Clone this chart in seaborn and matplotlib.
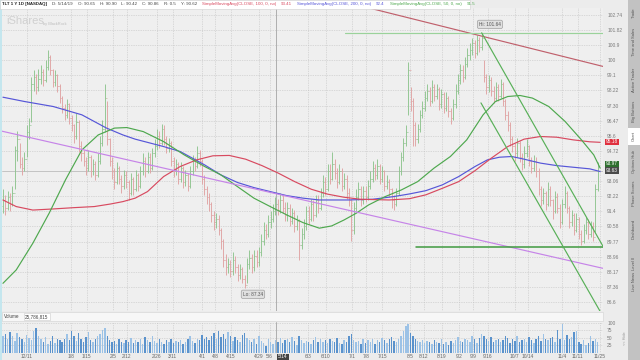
import numpy as np
import pandas as pd
import seaborn as sns
import matplotlib.pyplot as plt
from matplotlib.patches import Rectangle

# ---- daily OHLC bars (index 0 = first visible session) ----
first_open = 91.7
closes = [
    92.0, 91.6, 92.2, 91.8, 92.4, 94.8, 95.4, 94.0, 93.8, 94.3,
    95.8, 96.2, 98.6, 99.0, 98.4, 98.9, 99.3, 98.8, 99.6, 100.2,
    99.4, 98.7, 99.1, 98.5, 97.8, 97.2, 96.8, 97.4, 96.6, 96.2,
    95.6, 96.4, 95.0, 94.6, 94.2, 93.8, 94.4, 93.6, 94.0, 93.4,
    94.2, 95.2, 96.0, 97.8, 95.4, 94.2, 93.6, 93.0, 93.8, 93.2,
    92.8, 93.4, 93.0, 92.4, 93.2, 92.6, 93.4, 92.8, 93.6, 94.2,
    93.6, 94.4, 93.8, 94.6, 95.0, 95.6, 95.2, 96.0, 95.4, 94.9,
    95.2, 94.2, 93.6, 94.0, 93.2, 93.8, 93.0, 93.4, 92.8, 93.6,
    94.2, 93.9, 94.6, 94.2, 93.2, 92.6, 92.2, 91.8, 91.2, 90.8,
    91.0, 90.4, 89.8, 88.8, 88.4, 88.6, 88.2, 88.8, 88.4, 88.0,
    88.3, 87.8, 87.5, 88.6, 88.9, 88.4, 89.0, 88.7, 89.2, 89.8,
    90.4, 90.2, 90.8, 91.0, 91.4, 91.8, 91.5, 92.0, 91.6, 91.2,
    91.6, 90.9, 91.3, 90.6, 90.9, 89.6, 90.2, 90.6, 91.4, 91.0,
    91.8, 91.2, 92.0, 91.6, 92.4, 93.0, 92.6, 93.6, 93.2, 94.0,
    93.5, 93.0, 93.6, 92.8, 93.2, 92.4, 92.0, 90.4, 91.6, 92.2,
    92.6, 92.0, 92.5, 92.2, 92.8, 93.2, 93.8, 93.4, 93.9, 93.2,
    93.6, 92.8, 93.0, 92.6, 92.0, 91.8, 92.4, 93.6, 94.4, 95.2,
    95.8, 99.4, 97.6, 96.2, 95.4, 96.0, 96.8, 97.2, 97.8, 98.2,
    97.6, 98.4, 97.9, 98.3, 97.4, 98.0, 97.2, 97.8, 97.0, 96.6,
    97.4, 98.2, 98.8, 99.4, 99.0, 99.8, 100.3, 100.6, 101.0, 100.4,
    101.2, 100.8, 101.3, 99.0, 98.4, 98.8, 98.2, 97.8, 98.4, 97.9,
    98.6, 97.6, 96.8, 96.2, 95.4, 95.0, 94.6, 95.2, 94.4, 94.0,
    94.6, 95.0, 94.2, 93.8, 94.2, 93.6, 92.6, 92.0, 92.4, 91.8,
    92.6, 92.0, 91.4, 92.2, 91.6, 90.8, 91.8, 92.4, 91.6, 90.8,
    91.2, 90.4, 91.0, 90.2, 89.8, 90.4, 90.8, 90.2, 90.6, 90.0,
    92.6, 93.9,
]
highs = [
    92.6, 92.3, 92.5, 92.4, 92.8, 95.0, 95.9, 95.2, 94.4, 94.7,
    96.2, 96.6, 99.0, 99.4, 99.2, 99.5, 99.7, 99.5, 100.0, 100.6,
    100.3, 99.5, 99.4, 99.2, 98.6, 97.9, 97.4, 97.7, 97.5, 96.8,
    96.3, 96.9, 96.5, 95.3, 94.8, 94.4, 94.8, 94.5, 94.3, 94.2,
    94.6, 95.6, 96.5, 98.6, 97.6, 95.5, 94.4, 93.8, 94.1, 93.9,
    93.4, 93.7, 93.6, 93.1, 93.5, 93.3, 93.7, 93.5, 93.9, 94.6,
    94.4, 94.7, 94.6, 94.9, 95.4, 96.0, 95.9, 96.3, 96.2, 95.6,
    95.5, 95.3, 94.4, 94.3, 94.1, 94.1, 93.9, 93.7, 93.5, 93.9,
    94.5, 94.4, 95.0, 94.8, 94.3, 93.4, 92.8, 92.4, 91.9, 91.4,
    91.3, 91.2, 90.5, 89.9, 89.1, 88.9, 88.8, 89.2, 89.0, 88.6,
    88.6, 88.4, 88.0, 88.9, 89.3, 89.1, 89.3, 89.3, 89.5, 90.2,
    90.8, 90.7, 91.2, 91.4, 91.8, 92.2, 92.1, 92.4, 92.3, 91.9,
    91.9, 91.8, 91.6, 91.5, 91.2, 91.0, 90.5, 91.0, 91.7, 91.7,
    92.1, 92.0, 92.3, 92.3, 92.7, 93.4, 93.3, 94.0, 94.0, 94.7,
    94.3, 93.8, 94.0, 93.8, 93.5, 93.4, 92.7, 92.1, 91.9, 92.6,
    93.0, 92.8, 92.8, 92.8, 93.1, 93.6, 94.2, 94.0, 94.3, 94.0,
    93.9, 93.7, 93.4, 93.2, 92.7, 92.3, 92.7, 93.9, 94.7, 95.5,
    96.2, 99.9, 98.4, 97.8, 96.4, 96.3, 97.1, 97.6, 98.2, 98.6,
    98.4, 98.8, 98.6, 98.6, 98.4, 98.3, 98.1, 98.1, 97.9, 97.2,
    97.7, 98.6, 99.2, 99.8, 99.7, 100.2, 100.7, 101.0, 101.3, 101.2,
    101.5, 101.4, 101.64, 100.0, 99.2, 99.1, 99.0, 98.5, 98.7, 98.6,
    98.9, 98.7, 97.7, 97.0, 96.4, 95.6, 95.2, 95.5, 95.3, 94.6,
    95.0, 95.4, 95.1, 94.4, 94.5, 94.4, 93.8, 92.8, 92.7, 92.5,
    93.0, 92.8, 92.1, 92.5, 92.4, 91.8, 92.1, 92.8, 92.5, 91.7,
    91.5, 91.3, 91.3, 91.1, 90.4, 90.7, 91.1, 91.0, 90.9, 90.8,
    92.9, 94.1,
]
lows = [
    91.3, 91.2, 91.5, 91.4, 91.7, 92.6, 94.2, 93.8, 93.4, 93.6,
    94.4, 95.4, 96.4, 98.2, 98.0, 98.2, 98.6, 98.5, 98.7, 99.4,
    99.1, 98.4, 98.5, 98.1, 97.5, 96.9, 96.5, 96.6, 96.3, 95.9,
    95.2, 95.4, 94.7, 94.2, 93.9, 93.4, 93.6, 93.3, 93.4, 93.1,
    93.3, 94.0, 95.0, 95.8, 95.1, 93.9, 93.2, 92.6, 92.9, 92.9,
    92.4, 92.6, 92.7, 92.0, 92.3, 92.3, 92.5, 92.5, 92.7, 93.4,
    93.3, 93.5, 93.5, 93.7, 94.4, 94.8, 94.9, 95.1, 95.1, 94.6,
    94.7, 93.9, 93.3, 93.4, 92.9, 93.0, 92.7, 92.8, 92.5, 92.7,
    93.4, 93.6, 93.8, 93.9, 92.9, 92.3, 91.8, 91.4, 90.8, 90.4,
    90.5, 90.1, 89.4, 88.4, 88.0, 88.1, 87.9, 88.0, 88.1, 87.7,
    87.8, 87.6, 87.34, 87.6, 88.3, 88.1, 88.2, 88.4, 88.5, 89.0,
    89.6, 89.9, 90.0, 90.5, 90.8, 91.2, 91.2, 91.3, 91.3, 90.9,
    90.9, 90.6, 90.7, 90.3, 90.4, 88.8, 89.4, 89.9, 90.4, 90.7,
    90.9, 90.9, 91.1, 91.3, 91.5, 92.2, 92.3, 92.5, 92.9, 93.1,
    93.2, 92.7, 92.9, 92.5, 92.6, 92.1, 91.7, 89.8, 90.2, 91.4,
    92.0, 91.7, 91.8, 91.9, 92.0, 92.6, 93.0, 93.1, 93.2, 92.9,
    93.0, 92.5, 92.6, 92.2, 91.6, 91.5, 91.7, 92.3, 93.4, 94.2,
    95.0, 96.8, 97.0, 95.0, 95.0, 95.2, 95.8, 96.6, 97.0, 97.6,
    97.3, 97.5, 97.6, 97.7, 97.1, 97.2, 96.9, 97.0, 96.7, 96.3,
    96.5, 97.2, 98.0, 98.6, 98.7, 98.9, 99.6, 100.0, 100.3, 100.1,
    100.3, 100.5, 100.6, 98.7, 98.0, 98.1, 97.9, 97.5, 97.6, 97.6,
    97.8, 97.3, 96.5, 95.9, 95.0, 94.7, 94.2, 94.4, 94.1, 93.7,
    93.8, 94.4, 93.9, 93.5, 93.6, 93.3, 92.3, 91.7, 91.8, 91.5,
    91.7, 91.7, 91.0, 91.3, 91.3, 90.5, 90.7, 91.6, 91.3, 90.5,
    90.6, 90.1, 90.3, 89.9, 89.6, 89.7, 90.2, 89.9, 90.0, 89.8,
    90.3, 92.5,
]
volume = [
    55, 62, 48, 70, 58, 40, 66, 52, 45, 38,
    60, 50, 44, 72, 84, 58, 45, 36, 52, 30,
    40, 55, 34, 48, 42, 38, 46, 62, 44, 74,
    56, 40, 65, 48, 36, 52, 70, 42, 38, 46,
    58, 62, 75, 82, 58, 44, 36, 40, 30, 46,
    38, 32, 44, 38, 50, 34, 42, 36, 48, 30,
    52, 44, 38, 58, 40, 34, 46, 36, 30, 42,
    38, 48, 32, 40, 36, 44, 30, 38, 46, 56,
    40, 34, 48, 42, 60, 46, 52, 44, 58, 66,
    48, 72, 54, 62, 46, 70, 58, 40, 52, 44,
    36, 60, 68, 50, 44, 38, 46, 30, 56, 40,
    34, 22, 48, 36, 30, 44, 38, 50, 32, 42,
    46, 36, 52, 40, 28, 58, 44, 34, 40, 36,
    30, 42, 52, 36, 46, 38, 44, 32, 48, 40,
    36, 50, 34, 30, 42, 38, 56, 62, 44, 36,
    40, 30, 46, 34, 42, 38, 48, 30, 44, 36,
    50, 42, 34, 46, 52, 40, 36, 48, 56, 72,
    90, 98, 68, 58, 46, 40, 38, 44, 32, 40,
    36, 30, 42, 38, 34, 46, 30, 36, 28, 40,
    34, 44, 52, 40, 36, 48, 42, 38, 56, 46,
    34, 50, 62, 58, 46, 40, 52, 36, 44, 48,
    38, 42, 56, 50, 34, 46, 40, 58, 36, 44,
    48, 38, 52, 42, 34, 46, 56, 40, 62, 48,
    44, 50, 52, 38, 78, 46, 97, 42, 60, 48,
    52, 70, 72, 38, 30, 42, 28, 34, 56, 40,
    46, 36,
]

# ---- moving averages, sampled along the drawn curves (bar index, price) ----
sma200_idx = [0, 9.1, 21.2, 33.3, 43.7, 50.6, 55.8, 67.8, 74.8, 79.9, 85.1, 92.0, 99.0, 105.9, 112.8,
              119.7, 126.6, 133.5, 145.6, 156.0, 164.6, 171.5, 178.4, 185.4, 192.3, 199.2, 204.4, 209.5,
              214.7, 219.9, 226.8, 233.7, 240.6, 247.6, 252]
sma200_val = [97.82, 97.57, 97.28, 96.80, 96.04, 95.65, 95.41, 94.99, 94.71, 94.34, 93.96, 93.40, 92.98,
              92.70, 92.48, 92.26, 92.12, 92.02, 92.02, 92.06, 92.20, 92.35, 92.53, 92.85, 93.31, 93.87,
              94.24, 94.39, 94.43, 94.28, 94.06, 93.92, 93.83, 93.74, 93.59]
sma100_idx = [0, 5.6, 12.6, 21.2, 29.8, 38.5, 45.4, 50.6, 55.8, 61.0, 67.8, 74.8, 81.7, 88.6, 95.5,
              102.4, 109.3, 116.2, 123.1, 130.1, 137.0, 143.9, 150.8, 162.9, 171.5, 178.4, 185.4, 192.3,
              199.2, 206.1, 213.0, 219.9, 226.8, 233.7, 240.6, 247.6, 252]
sma100_val = [92.02, 91.66, 91.47, 91.53, 91.60, 91.66, 91.80, 91.93, 92.12, 92.48, 93.31, 93.87, 94.24,
              94.47, 94.49, 94.28, 93.92, 93.50, 93.03, 92.61, 92.34, 92.17, 92.06, 92.02, 92.09, 92.30,
              92.66, 93.03, 93.64, 94.34, 94.99, 95.41, 95.56, 95.52, 95.37, 95.26, 95.23]
sma50_idx = [0, 5.6, 12.6, 19.5, 26.4, 33.3, 40.2, 47.1, 52.3, 59.2, 67.8, 76.5, 85.1, 92.0, 99.0,
             105.9, 112.8, 119.7, 126.6, 133.5, 138.7, 143.9, 149.1, 154.3, 161.2, 168.1, 175.0, 181.9,
             188.8, 195.7, 202.6, 207.8, 213.0, 218.2, 223.4, 230.3, 237.2, 244.1, 249.3, 252]
sma50_val = [87.57, 88.27, 89.68, 91.30, 93.13, 94.80, 95.65, 96.04, 96.07, 95.84, 95.27, 94.52, 93.87,
             93.40, 92.75, 92.12, 91.66, 91.21, 90.79, 90.49, 90.61, 90.93, 91.30, 91.75, 92.20, 92.57,
             93.03, 93.78, 94.43, 95.37, 96.80, 97.57, 97.86, 97.92, 97.77, 97.28, 96.42, 95.37, 94.52, 93.78]

# ---- drawing tool lines: (start index, end index), (start price, end price) ----
red_trend_x, red_trend_y = [140.5, 254], [103.66, 99.6]
purple_trend_x, purple_trend_y = [-1.3, 254.4], [95.89, 88.32]
hi_level_x, hi_level_y = [144.3, 254], [101.64, 101.64]
support_x, support_y = [174.3, 254], [89.48, 89.48]
chan_up_x, chan_up_y = [202, 253.6], [101.64, 89.43]
chan_dn_x, chan_dn_y = [201.7, 251.9], [97.49, 86.14]

price_ticks = [86.6, 87.36, 88.17, 88.96, 89.77, 90.58, 91.4, 92.22, 93.06, 94.72, 95.6,
               96.47, 97.30, 98.22, 99.1, 100.0, 100.9, 101.82, 102.74]
price_tick_labels = ["86.6", "87.36", "88.17", "88.96", "89.77", "90.58", "91.4", "92.22", "93.06", "94.72",
                     "95.6", "96.47", "97.30", "98.22", "99.1", "100", "100.9", "101.82", "102.74"]
vol_ticks = [25, 50, 75, 100]
date_labels = ["12/11", "1/8", "1/15", "2/5", "2/12", "2/26", "3/11", "4/1", "4/8", "4/15", "4/29", "5/6",
               "6/3", "6/10", "7/1", "7/8", "7/15", "8/5", "8/12", "8/19", "9/2", "9/9", "9/16", "10/7",
               "10/14", "11/4", "11/11", "11/25"]
date_pos = [10.1, 28.7, 35.4, 46.4, 52.3, 65.0, 71.7, 84.0, 89.5, 96.2, 108.0, 112.5,
            128.7, 136.3, 147.3, 153.2, 160.0, 171.7, 177.6, 185.2, 192.4, 198.3, 204.6, 216.0,
            221.5, 235.9, 242.6, 251.9]
cross_idx, cross_price = 115.2, 93.6

sns.set_theme(style="whitegrid", rc={"axes.facecolor": "#efefef", "figure.facecolor": "#ececec"})
plt.rcParams['font.family'] = ['Liberation Sans', 'DejaVu Sans']

W, H = 640, 360
def fx(x):
    return x / W
def fy(y):
    return 1 - y / H

fig = plt.figure(figsize=(6.4, 3.6), dpi=100)
ax = fig.add_axes([fx(2), fy(311), fx(603) - fx(2), fy(8) - fy(311)])
axv = fig.add_axes([fx(2), fy(353), fx(603) - fx(2), fy(322) - fy(353)], sharex=ax)

df = pd.DataFrame({"close": closes, "high": highs, "low": lows, "volume": volume})
df["open"] = df["close"].shift(1).fillna(first_open)
df["up"] = df["close"] >= df["open"]
idx = df.index.to_numpy()

# price bars
cols = np.where(df["up"], "#8fc48f", "#e0a3a3")
ax.set_yscale("log")
ax.vlines(idx, df["low"], df["high"], colors=cols, lw=0.65, zorder=3)
ax.hlines(df["open"], idx - 0.5, idx, colors=cols, lw=0.5, zorder=3)
ax.hlines(df["close"], idx, idx + 0.5, colors=cols, lw=0.5, zorder=3)

# moving averages
sns.lineplot(x=sma200_idx, y=sma200_val, ax=ax, color="#5656d8", lw=0.85, zorder=4)
sns.lineplot(x=sma100_idx, y=sma100_val, ax=ax, color="#d84a60", lw=0.85, zorder=4)
sns.lineplot(x=sma50_idx, y=sma50_val, ax=ax, color="#4ea84e", lw=0.85, zorder=4)

# drawings
ax.plot(red_trend_x, red_trend_y, color="#c0606c", lw=0.85, zorder=4)
ax.plot(purple_trend_x, purple_trend_y, color="#c684e8", lw=0.85, zorder=4)
ax.plot(hi_level_x, hi_level_y, color="#9ad29a", lw=0.85, zorder=4)
ax.plot(support_x, support_y, color="#3f9a3f", lw=1.1, zorder=4)
ax.plot(chan_up_x, chan_up_y, color="#58b058", lw=0.85, zorder=4)
ax.plot(chan_dn_x, chan_dn_y, color="#58b058", lw=0.85, zorder=4)

# crosshair
ax.axvline(cross_idx, color="#a4a4a4", lw=0.6, zorder=2)
axv.axvline(cross_idx, color="#a4a4a4", lw=0.6, zorder=2)
ax.axhline(cross_price, color="#bcbcbc", lw=0.6, zorder=2)

box = dict(boxstyle="round,pad=0.35", fc="#e0e0e0", ec="#a0a0a0", lw=0.5)
ax.text(205.5, 102.15, "Hi: 101.64", fontsize=3.4, color="#555", ha="center", va="center", bbox=box, zorder=6)
ax.text(105.5, 87.0, "Lo: 87.34", fontsize=3.4, color="#555", ha="center", va="center", bbox=box, zorder=6)

ax.set_xlim(-0.4, 253.2)
ax.set_ylim(86.14, 103.15)
ax.set_yticks(price_ticks)
ax.set_yticklabels(price_tick_labels)
ax.minorticks_off()
ax.yaxis.tick_right()
ax.tick_params(axis="y", labelsize=3.5, labelcolor="#7a7a7a", length=0, pad=3)
ax.tick_params(axis="x", labelbottom=False, length=0)
ax.grid(True, color="#c0c0c0", lw=0.5, ls=(0, (1, 1.5)))
for s in ax.spines.values():
    s.set_visible(False)

# volume
vcols = np.where(df["up"], "#9cc2e6", "#5a92cc")
axv.bar(idx, df["volume"], width=0.6, color=vcols, lw=0, zorder=3)
axv.set_ylim(0, 103.3)
axv.set_yticks(vol_ticks)
axv.yaxis.tick_right()
axv.tick_params(axis="y", labelsize=3.5, labelcolor="#7a7a7a", length=0, pad=3)
axv.set_xticks(date_pos)
axv.set_xticklabels(date_labels)
axv.tick_params(axis="x", labelsize=3.5, labelcolor="#666", length=0, pad=1)
axv.grid(True, color="#c0c0c0", lw=0.5, ls=(0, (1, 1.5)))
for s in axv.spines.values():
    s.set_visible(False)

# chrome around the chart
fig.patches.append(Rectangle((0, 0), fx(2), 1, transform=fig.transFigure, fc="#c4e6ee", ec="none"))
fig.patches.append(Rectangle((0, fy(8.5)), fx(470), fy(0) - fy(8.5), transform=fig.transFigure,
                             fc="white", ec="#cfcfcf", lw=0.4))
fig.patches.append(Rectangle((fx(2), fy(321)), fx(601), fy(312) - fy(321), transform=fig.transFigure,
                             fc="#f7f7f7", ec="#d2d2d2", lw=0.4))
fig.text(fx(4), fy(316.5), "Volume", fontsize=3.3, color="#444", va="center")
fig.text(fx(25), fy(316.5), "25,786,815", fontsize=3.3, color="#444", va="center",
         bbox=dict(boxstyle="square,pad=0.25", fc="white", ec="#cccccc", lw=0.4))
fig.text(fx(283), fy(357), "5/14", fontsize=3.5, color="white", ha="center", va="center",
         bbox=dict(boxstyle="square,pad=0.2", fc="#444444", ec="none"))

# header strip: items laid out one after another
header = [("TLT 1 Y 1D [NASDAQ]", "#222222", "bold"), ("D: 5/14/19", "#444444", "normal"),
          ("O: 90.65", "#444444", "normal"), ("H: 90.90", "#444444", "normal"),
          ("L: 90.42", "#444444", "normal"), ("C: 90.86", "#444444", "normal"),
          ("R: 0.5", "#444444", "normal"), ("Y: 90.62", "#444444", "normal"),
          ("SimpleMovingAvg(CLOSE, 100, 0, no)", "#d84a60", "normal"), ("93.41", "#d84a60", "normal"),
          ("SimpleMovingAvg(CLOSE, 200, 0, no)", "#5656d8", "normal"), ("92.4", "#5656d8", "normal"),
          ("SimpleMovingAvg(CLOSE, 50, 0, no)", "#4ea84e", "normal"), ("91.5", "#4ea84e", "normal")]
renderer = fig.canvas.get_renderer()
xpos = 2.0
for txt, c, w in header:
    t = fig.text(fx(xpos), fy(4.3), txt, fontsize=3.2, color=c, fontweight=w, va="center")
    xpos += t.get_window_extent(renderer).width + 5

fig.text(fx(6), fy(21), "iShares", fontsize=8, color="#d0d0d0", va="center")
fig.text(fx(43), fy(24), "by BlackRock", fontsize=2.8, color="#bdbdbd", va="center")

tags = [("95.18", 142, "#e0303e"), ("93.97", 164, "#2f6f2f"), ("93.63", 170.5, "#4a4a4a")]
for txt, y, c in tags:
    fig.text(fx(606), fy(y), txt, fontsize=3.4, color="white", va="center",
             bbox=dict(boxstyle="square,pad=0.2", fc=c, ec="none"))

# side tab strip
fig.patches.append(Rectangle((fx(628), 0), fx(12), 1, transform=fig.transFigure, fc="#c2c2c2", ec="none"))
fig.patches.append(Rectangle((fx(628), fy(145)), fx(12), fy(128) - fy(145), transform=fig.transFigure,
                             fc="white", ec="none"))
side_tabs = ["Trade", "Time and Sales", "Active Trader", "Big Buttons", "Chart", "Options Hub",
             "Phase Scores", "Dashboard", "Level II", "Live News"]
side_y = [13, 42, 80, 111, 136, 162, 193, 229, 263, 281]
for txt, y in zip(side_tabs, side_y):
    fig.text(fx(634), fy(y), txt, fontsize=3.0, color="#555555", rotation=90, ha="center", va="center")
fig.text(fx(625), fy(338), "<< Hide", fontsize=2.8, color="#999999", rotation=90, ha="center", va="center")

fig.savefig("out.png", dpi=100, facecolor=fig.get_facecolor())
